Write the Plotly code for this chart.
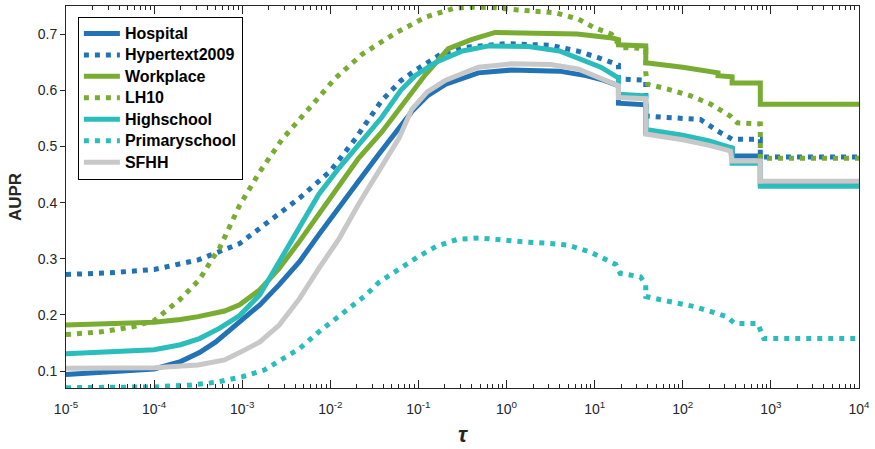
import plotly.graph_objects as go

# ---- data (log10 of tau, AUPR) ----
hospital_log_tau = [-5, -4.5, -4, -3.7, -3.485, -3.3, -3.03, -2.8, -2.58, -2.35, -2.13, -1.9, -1.68, -1.45,
                    -1.25, -1.076, -0.9, -0.69, -0.32, 0.05, 0.6, 0.9, 1.1, 1.27, 1.27, 1.58, 1.58, 2.0, 2.3,
                    2.56, 2.56, 2.88, 2.88, 4]
hospital_aupr = [0.094, 0.098, 0.104, 0.117, 0.133, 0.152, 0.188, 0.218, 0.254, 0.295, 0.343, 0.39, 0.438, 0.486,
                 0.525, 0.562, 0.59, 0.611, 0.631, 0.636, 0.634, 0.626, 0.618, 0.608, 0.577, 0.574, 0.524, 0.514,
                 0.505, 0.497, 0.483, 0.483, 0.433, 0.433]

hypertext_log_tau = [-5, -4.5, -4, -3.5, -3.03, -2.7, -2.35, -2.0, -1.71, -1.42, -1.2, -1.03, -0.75, -0.5, 0,
                     0.5, 0.8, 1.04, 1.27, 1.27, 1.58, 1.58, 1.9, 2.2, 2.4, 2.56, 2.88, 2.88, 4]
hypertext_aupr = [0.272, 0.275, 0.281, 0.298, 0.327, 0.366, 0.408, 0.456, 0.515, 0.581, 0.617, 0.636, 0.664,
                  0.676, 0.683, 0.68, 0.67, 0.658, 0.645, 0.62, 0.618, 0.554, 0.552, 0.548, 0.527, 0.513, 0.513,
                  0.481, 0.481]

workplace_log_tau = [-5, -4.5, -4, -3.7, -3.5, -3.2, -3.03, -2.8, -2.58, -2.35, -2.13, -1.9, -1.68, -1.42,
                     -1.14, -0.92, -0.66, -0.4, -0.13, 0.3, 0.8, 1.2, 1.27, 1.27, 1.58, 1.58, 2.0, 2.4, 2.4,
                     2.56, 2.56, 2.88, 2.88, 4]
workplace_aupr = [0.182, 0.184, 0.187, 0.192, 0.197, 0.207, 0.218, 0.245, 0.283, 0.331, 0.379, 0.432, 0.479,
                  0.525, 0.581, 0.628, 0.674, 0.69, 0.703, 0.702, 0.7, 0.693, 0.69, 0.681, 0.679, 0.649, 0.641,
                  0.631, 0.626, 0.624, 0.613, 0.613, 0.575, 0.575]

lh10_log_tau = [-5, -4.6, -4.24, -4, -3.71, -3.485, -3.34, -3.26, -3.03, -2.8, -2.55, -2.24, -1.94, -1.64,
                -1.26, -0.92, -0.6, -0.4, -0.13, 0.13, 0.55, 0.81, 1.0, 1.19, 1.3, 1.5, 1.58, 1.58, 1.6, 1.83,
                2.09, 2.32, 2.54, 2.62, 2.88, 2.88, 4]
lh10_aupr = [0.165, 0.17, 0.179, 0.19, 0.227, 0.263, 0.3, 0.318, 0.395, 0.455, 0.512, 0.569, 0.622, 0.664,
             0.702, 0.73, 0.746, 0.748, 0.747, 0.743, 0.738, 0.727, 0.711, 0.7, 0.676, 0.675, 0.672, 0.631,
             0.611, 0.602, 0.59, 0.575, 0.554, 0.542, 0.54, 0.479, 0.479]

highschool_log_tau = [-5, -4.5, -4, -3.7, -3.485, -3.26, -3.03, -2.8, -2.58, -2.35, -2.13, -1.9, -1.68, -1.42,
                      -1.2, -1.03, -0.8, -0.5, -0.2, 0.25, 0.6, 0.9, 1.07, 1.27, 1.27, 1.58, 1.58, 2.0, 2.3,
                      2.56, 2.56, 2.88, 2.88, 4]
highschool_aupr = [0.131, 0.134, 0.138, 0.147, 0.158, 0.176, 0.199, 0.236, 0.295, 0.355, 0.415, 0.462, 0.504,
                   0.551, 0.6, 0.627, 0.65, 0.67, 0.679, 0.678, 0.67, 0.652, 0.641, 0.622, 0.593, 0.59, 0.53,
                   0.52, 0.51, 0.497, 0.47, 0.47, 0.429, 0.429]

primary_log_tau = [-5, -4.5, -4, -3.6, -3.3, -3.0, -2.75, -2.35, -2.13, -1.9, -1.6, -1.45, -1.2, -1.0, -0.8,
                   -0.55, -0.3, 0, 0.2, 0.45, 0.7, 0.95, 1.12, 1.24, 1.29, 1.52, 1.58, 1.58, 1.75, 1.98, 2.13,
                   2.32, 2.5, 2.59, 2.85, 2.92, 4]
primary_aupr = [0.0705, 0.0705, 0.072, 0.075, 0.08, 0.09, 0.102, 0.14, 0.17, 0.198, 0.235, 0.258, 0.285, 0.304,
                0.322, 0.335, 0.337, 0.332, 0.33, 0.328, 0.324, 0.312, 0.299, 0.29, 0.274, 0.268, 0.254, 0.233,
                0.227, 0.221, 0.215, 0.206, 0.197, 0.185, 0.185, 0.158, 0.158]

sfhh_log_tau = [-5, -4.5, -4, -3.5, -3.2, -3.03, -2.8, -2.58, -2.35, -2.13, -1.9, -1.68, -1.45, -1.22, -1.076,
                -0.9, -0.69, -0.32, 0.05, 0.5, 0.81, 1.04, 1.27, 1.27, 1.58, 1.58, 2.0, 2.3, 2.54, 2.56, 2.88,
                2.88, 4]
sfhh_aupr = [0.105, 0.105, 0.106, 0.111, 0.12, 0.133, 0.152, 0.182, 0.229, 0.283, 0.336, 0.397, 0.456, 0.515,
             0.566, 0.597, 0.618, 0.641, 0.647, 0.646, 0.638, 0.622, 0.608, 0.587, 0.585, 0.522, 0.512, 0.502,
             0.492, 0.474, 0.474, 0.438, 0.438]

series_names = ["Hospital", "Hypertext2009", "Workplace", "LH10", "Highschool", "Primaryschool", "SFHH"]
x_tick_exponents = [-5, -4, -3, -2, -1, 0, 1, 2, 3, 4]
x_tick_labels = ["10<sup>%d</sup>" % e for e in x_tick_exponents]
y_tick_values = [0.1, 0.2, 0.3, 0.4, 0.5, 0.6, 0.7]
y_range = [0.07, 0.75]

BLUE = "#2272B6"
GREEN = "#78AC32"
TEAL = "#2BBDBC"
GREY = "#C8C8C8"
DOT = "5px,6px"

series = [
    (series_names[0], hospital_log_tau, hospital_aupr, BLUE, "solid"),
    (series_names[1], hypertext_log_tau, hypertext_aupr, BLUE, DOT),
    (series_names[2], workplace_log_tau, workplace_aupr, GREEN, "solid"),
    (series_names[3], lh10_log_tau, lh10_aupr, GREEN, DOT),
    (series_names[4], highschool_log_tau, highschool_aupr, TEAL, "solid"),
    (series_names[5], primary_log_tau, primary_aupr, TEAL, DOT),
    (series_names[6], sfhh_log_tau, sfhh_aupr, GREY, "solid"),
]

fig = go.Figure()
for name, lt, y, color, dash in series:
    fig.add_trace(go.Scatter(
        x=[10 ** v for v in lt], y=y, mode="lines",
        name='<span style="font-size:16px">%s</span>' % name,
        line=dict(color=color, width=5, dash=dash),
    ))

AX = "#262626"
FONT = "Liberation Sans, Arial, Helvetica, sans-serif"

fig.update_layout(
    width=875, height=449,
    margin=dict(l=66, r=13, t=5, b=61),
    paper_bgcolor="white", plot_bgcolor="white",
    font=dict(family=FONT, size=14, color=AX),
    showlegend=True,
    legend=dict(
        x=0.015, y=0.972, xanchor="left", yanchor="top",
        bgcolor="white", bordercolor="black", borderwidth=1,
        font=dict(family=FONT, size=14.2, color="black", weight="bold"),
        tracegroupgap=0, itemwidth=36,
    ),
    xaxis=dict(
        type="log", range=[-5, 4],
        tickvals=[10 ** e for e in x_tick_exponents], ticktext=x_tick_labels,
        ticks="inside", ticklen=8, tickwidth=1, tickcolor=AX,
        showline=True, linecolor=AX, linewidth=1, mirror="ticks",
        showgrid=False, zeroline=False,
        tickfont=dict(family=FONT, size=14, color=AX),
        ticklabelstandoff=8,
        minor=dict(ticks="inside", ticklen=4, tickwidth=1, tickcolor=AX, dtick="D1", showgrid=False),
        title=dict(text="<b><i>τ</i></b>", font=dict(family=FONT, size=22, color=AX), standoff=10),
    ),
    yaxis=dict(
        range=y_range,
        tickvals=y_tick_values, tickformat=".1f",
        ticks="outside", ticklen=5, tickwidth=1, tickcolor=AX,
        showline=True, linecolor=AX, linewidth=1, mirror=True,
        showgrid=False, zeroline=False,
        tickfont=dict(family=FONT, size=14, color=AX),
        title=dict(text="<b>AUPR</b>", font=dict(family=FONT, size=17, color=AX), standoff=11),
    ),
    yaxis2=dict(
        overlaying="y", side="right", range=y_range,
        tickvals=y_tick_values, showticklabels=False,
        ticks="inside", ticklen=8, tickwidth=1, tickcolor=AX,
        showline=False, showgrid=False, zeroline=False,
    ),
)

fig.write_html("out.html", config={"displayModeBar": False},
               post_script="document.body.style.margin='0px';")
